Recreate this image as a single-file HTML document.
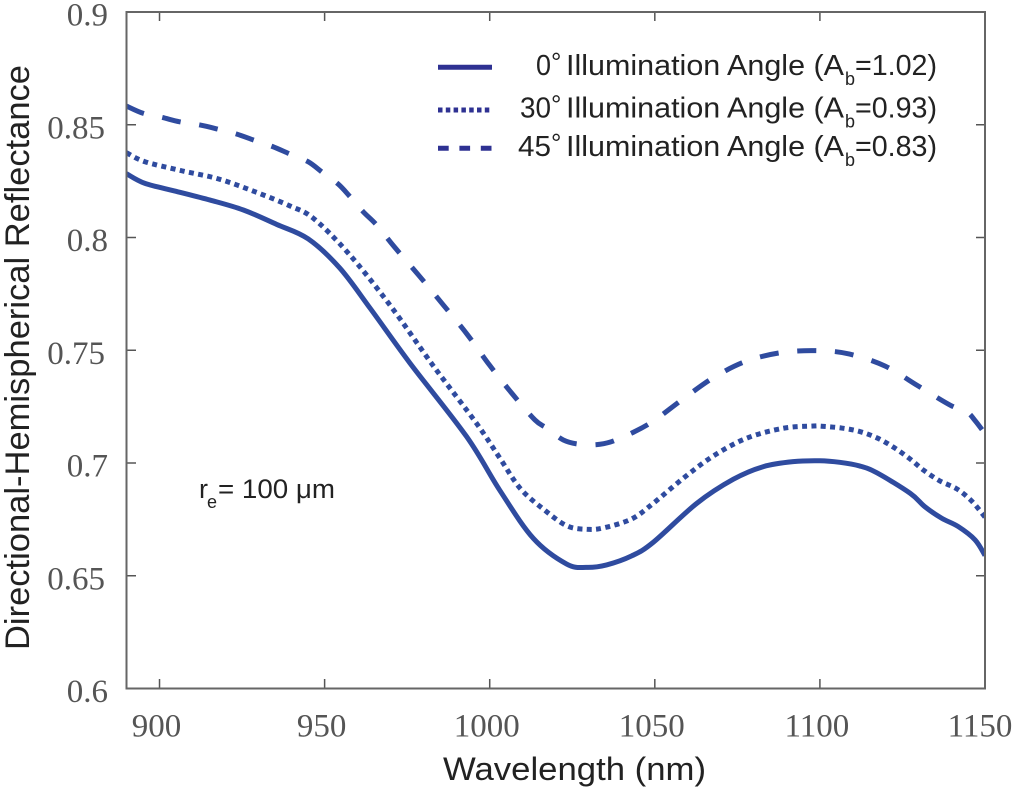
<!DOCTYPE html>
<html>
<head>
<meta charset="utf-8">
<title>Directional-Hemispherical Reflectance</title>
<style>
html,body{margin:0;padding:0;background:#fff;width:1016px;height:792px;overflow:hidden}
svg{display:block}
.tick{font-family:"Liberation Serif",serif;font-size:33px;fill:#555}
.lab{font-family:"Liberation Sans",sans-serif;fill:#222}
</style>
</head>
<body>
<svg id="chart" width="1016" height="792" viewBox="0 0 1016 792" xmlns="http://www.w3.org/2000/svg">
  <defs><clipPath id="plot-clip"><rect x="126" y="12" width="860" height="677"/></clipPath></defs>
  <g id="ticks"></g>
  <g id="series" clip-path="url(#plot-clip)"></g>
  <rect x="126.5" y="12" width="858.5" height="676.5" fill="none" stroke="#666" stroke-width="2"/>

  <text class="lab" x="443" y="780" font-size="32" textLength="263" lengthAdjust="spacingAndGlyphs">Wavelength (nm)</text>
  <text class="lab" transform="translate(29,650) rotate(-90)" x="0" y="0" font-size="34" textLength="585" lengthAdjust="spacingAndGlyphs">Directional-Hemispherical Reflectance</text>

  <g>
    <line x1="438" x2="492" y1="67.3" y2="67.3" stroke="#2e3192" stroke-width="5"/>
    <line x1="438" x2="491" y1="110" y2="110" stroke="#2e3192" stroke-width="5" stroke-dasharray="4.5 3.3"/>
    <line x1="438" x2="492" y1="148.3" y2="148.3" stroke="#2e3192" stroke-width="5" stroke-dasharray="10.7 10.7"/>

    <g class="lab" font-size="28.5">
      <text x="536" y="75" textLength="15" lengthAdjust="spacingAndGlyphs">0</text>
      <text x="551" y="71" font-size="26">°</text>
      <text x="566" y="75" textLength="278" lengthAdjust="spacingAndGlyphs">Illumination Angle (A</text>
      <text x="845" y="85" font-size="18">b</text>
      <text x="855" y="75" textLength="82" lengthAdjust="spacingAndGlyphs">=1.02)</text>
    </g>
    <g class="lab" font-size="28.5">
      <text x="520" y="117.5" textLength="31" lengthAdjust="spacingAndGlyphs">30</text>
      <text x="551" y="113.5" font-size="26">°</text>
      <text x="566" y="117.5" textLength="278" lengthAdjust="spacingAndGlyphs">Illumination Angle (A</text>
      <text x="845" y="127.5" font-size="18">b</text>
      <text x="855" y="117.5" textLength="82" lengthAdjust="spacingAndGlyphs">=0.93)</text>
    </g>
    <g class="lab" font-size="28.5">
      <text x="518" y="156" textLength="33" lengthAdjust="spacingAndGlyphs">45</text>
      <text x="551" y="152" font-size="26">°</text>
      <text x="566" y="156" textLength="278" lengthAdjust="spacingAndGlyphs">Illumination Angle (A</text>
      <text x="845" y="166" font-size="18">b</text>
      <text x="855" y="156" textLength="82" lengthAdjust="spacingAndGlyphs">=0.83)</text>
    </g>
  </g>

  <g class="lab" font-size="27">
    <text x="199" y="498">r</text>
    <text x="207" y="508" font-size="18">e</text>
    <text x="218" y="498" textLength="117" lengthAdjust="spacingAndGlyphs">= 100 μm</text>
  </g>
</svg>
<script>
const xTicks = [900, 950, 1000, 1050, 1100, 1150];
const yTicks = [0.6, 0.65, 0.7, 0.75, 0.8, 0.85, 0.9];
const yTickLabels = ['0.6', '0.65', '0.7', '0.75', '0.8', '0.85', '0.9'];

const wavelengths0 = [890, 895.6, 905, 915.3, 925.4, 935.5, 945, 954.5, 963.8, 975.9, 993, 1003, 1013.2, 1023.3, 1029.4, 1035.4, 1043, 1049.5, 1062.7, 1073.8, 1082.9, 1091.9, 1100, 1106, 1112, 1117.2, 1127.3, 1131.8, 1136.9, 1141.9, 1147, 1150];
const reflectance0 = [0.8283, 0.824, 0.8205, 0.8166, 0.8122, 0.8058, 0.7994, 0.7866, 0.7686, 0.7442, 0.7117, 0.688, 0.6666, 0.6552, 0.6537, 0.6548, 0.6588, 0.6648, 0.6821, 0.6928, 0.6984, 0.7006, 0.701, 0.7003, 0.6987, 0.6957, 0.6866, 0.6806, 0.6755, 0.6718, 0.6659, 0.659];

const wavelengths30 = [890, 895.6, 906.7, 917.8, 928.9, 939.5, 946.6, 957.2, 969.8, 982.9, 996, 1003.1, 1009.2, 1016.2, 1023.3, 1029.4, 1034.4, 1043, 1049.5, 1058.6, 1067.7, 1077.8, 1088.9, 1098, 1100.5, 1106.6, 1112.2, 1117.5, 1122.5, 1127.3, 1131.6, 1136.4, 1141.5, 1146, 1150];
const reflectance30 = [0.8376, 0.8336, 0.8296, 0.826, 0.8203, 0.814, 0.8085, 0.793, 0.77, 0.7431, 0.7176, 0.7021, 0.6888, 0.6796, 0.6722, 0.6706, 0.6712, 0.6752, 0.6821, 0.6932, 0.7031, 0.711, 0.7154, 0.7164, 0.7163, 0.7155, 0.7139, 0.711, 0.7068, 0.7018, 0.6966, 0.692, 0.6885, 0.6831, 0.676];

const wavelengths45 = [890, 895, 900.6, 906.1, 912.2, 917.8, 923.3, 928.9, 934.3, 939.5, 945, 949.4, 954.1, 957.7, 961.7, 965.8, 971.1, 978.7, 986, 993.3, 999.9, 1007.1, 1013.7, 1017.3, 1022.3, 1027.3, 1033.4, 1038.9, 1048.5, 1058.1, 1067.7, 1077.8, 1088.9, 1100, 1109, 1119.7, 1129.6, 1139.4, 1144.4, 1147, 1150];
const reflectance45 = [0.8583, 0.8551, 0.8533, 0.8513, 0.8499, 0.848, 0.8459, 0.843, 0.8403, 0.837, 0.8336, 0.8288, 0.8237, 0.8181, 0.8114, 0.8055, 0.7959, 0.7829, 0.77, 0.7568, 0.7435, 0.7302, 0.7191, 0.7154, 0.7102, 0.7083, 0.7083, 0.7106, 0.7176, 0.7279, 0.7378, 0.7452, 0.7491, 0.7498, 0.7483, 0.743, 0.7343, 0.7257, 0.7228, 0.7188, 0.713];

const NS = 'http://www.w3.org/2000/svg';
const xScale = function (w) { return 126.5 + (w - 890) * (985 - 126.5) / 260; };
const yScale = function (v) { return 688.5 - (v - 0.6) * (688.5 - 12) / 0.3; };

const tickGroup = document.getElementById('ticks');
const seriesGroup = document.getElementById('series');

function makeLine(x1, y1, x2, y2) {
  const l = document.createElementNS(NS, 'line');
  l.setAttribute('x1', x1);
  l.setAttribute('y1', y1);
  l.setAttribute('x2', x2);
  l.setAttribute('y2', y2);
  l.setAttribute('stroke', '#555');
  l.setAttribute('stroke-width', '1.5');
  return l;
}

xTicks.forEach(function (t) {
  const x = xScale(t);
  const bottom = makeLine(x, 688, x, 679);
  
  
  tickGroup.appendChild(bottom);
  const top = makeLine(x, 12, x, 21);
  
  
  tickGroup.appendChild(top);
  const label = document.createElementNS(NS, 'text');
  
  
  label.setAttribute('class', 'tick');
  label.setAttribute('x', t === 1150 ? x - 5 : x - 3);
  label.setAttribute('y', 736.5);
  label.setAttribute('text-anchor', 'middle');
  label.textContent = String(t);
  tickGroup.appendChild(label);
});

yTicks.forEach(function (t, i) {
  const y = yScale(t);
  const left = makeLine(127, y, 136, y);
  
  
  tickGroup.appendChild(left);
  const right = makeLine(985, y, 976, y);
  
  
  tickGroup.appendChild(right);
  const label = document.createElementNS(NS, 'text');
  
  
  label.setAttribute('class', 'tick');
  label.setAttribute('x', yTickLabels[i].length > 3 ? 105 : 108);
  label.setAttribute('y', y + 13.5);
  label.setAttribute('text-anchor', 'end');
  label.textContent = yTickLabels[i];
  tickGroup.appendChild(label);
});

function pathFrom(xs, ys) {
  const pts = xs.map(function (w, i) { return [xScale(w), yScale(ys[i])]; });
  let d = 'M' + pts[0][0].toFixed(2) + ' ' + pts[0][1].toFixed(2);
  for (let i = 0; i < pts.length - 1; i++) {
    const p0 = pts[Math.max(i - 1, 0)];
    const p1 = pts[i];
    const p2 = pts[i + 1];
    const p3 = pts[Math.min(i + 2, pts.length - 1)];
    const c1x = p1[0] + (p2[0] - p0[0]) / 6;
    const c1y = p1[1] + (p2[1] - p0[1]) / 6;
    const c2x = p2[0] - (p3[0] - p1[0]) / 6;
    const c2y = p2[1] - (p3[1] - p1[1]) / 6;
    d += ' C' + c1x.toFixed(2) + ' ' + c1y.toFixed(2) + ' ' + c2x.toFixed(2) + ' ' + c2y.toFixed(2) + ' ' + p2[0].toFixed(2) + ' ' + p2[1].toFixed(2);
  }
  return d;
}

function makeSeries(xs, ys, dash) {
  const p = document.createElementNS(NS, 'path');
  p.setAttribute('d', pathFrom(xs, ys));
  p.setAttribute('fill', 'none');
  p.setAttribute('stroke', '#2f4b9f');
  p.setAttribute('stroke-width', '5');
  p.setAttribute('stroke-linejoin', 'round');
  if (dash) p.setAttribute('stroke-dasharray', dash);
  return p;
}

const line0 = makeSeries(wavelengths0, reflectance0, '');


seriesGroup.appendChild(line0);

const line30 = makeSeries(wavelengths30, reflectance30, '5 4.4');


seriesGroup.appendChild(line30);

const line45 = makeSeries(wavelengths45, reflectance45, '19 18.7');


seriesGroup.appendChild(line45);
</script>
</body>
</html>
